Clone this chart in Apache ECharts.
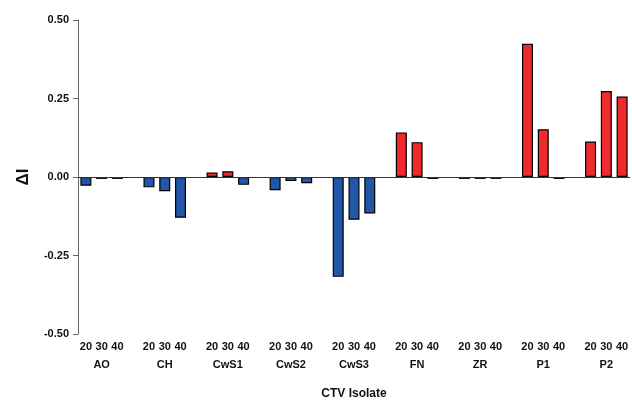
<!DOCTYPE html>
<html>
<head>
    <meta charset="UTF-8">
    <script src="https://cdn.jsdelivr.net/npm/echarts@6/dist/echarts.min.js"></script>
    <title>CTV isolate</title>
</head>
<body style="margin:0;background:#fff">
<div id="main" style="width:632px;height:405px"></div>
<script type="text/javascript">

    var isolates = ['AO', 'CH', 'CwS1', 'CwS2', 'CwS3', 'FN', 'ZR', 'P1', 'P2'];
    var temps = ['20', '30', '40'];
    // delta I per temperature, one value per isolate
    var v20 = [-0.028, -0.033, 0.014, -0.042, -0.318, 0.142, -0.006, 0.424, 0.113];
    var v30 = [-0.006, -0.045, 0.018, -0.013, -0.136, 0.111, -0.006, 0.152, 0.274];
    var v40 = [-0.006, -0.130, -0.025, -0.020, -0.116, -0.006, -0.006, -0.006, 0.256];
    var yTicks = [-0.5, -0.25, 0, 0.25, 0.5];

    // one slot per bar, one empty slot between isolates
    var slots = [];
    var data = [];
    var cols = [v20, v30, v40];
    for (var g = 0; g < isolates.length; g++) {
        for (var t = 0; t < 3; t++) {
            slots.push(g + '_' + t);
            data.push(cols[t][g]);
        }
        if (g < isolates.length - 1) {
            slots.push(g + '_gap');
            data.push(null);
        }
    }

    var myChart = echarts.init(document.getElementById('main'));
    myChart.setOption({
        animation: false,
        textStyle: {fontFamily: 'Liberation Sans, Arial', fontWeight: 'bold'},
        grid: {left: 78, right: 2, top: 20, bottom: 57},
        xAxis: {
            type: 'category',
            data: slots,
            name: 'CTV Isolate',
            nameLocation: 'middle',
            nameGap: 54,
            nameTextStyle: {fontSize: 12, fontWeight: 'bold', color: '#111'},
            axisLine: {show: false},
            axisTick: {show: false},
            axisLabel: {
                interval: 0,
                margin: 4,
                fontSize: 11,
                fontWeight: 'bold',
                color: '#111',
                lineHeight: 18,
                formatter: function (s) {
                    var p = s.split('_');
                    if (p[1] == 'gap') return '';
                    var t = +p[1];
                    if (t == 1) return temps[t] + '\n' + isolates[+p[0]];
                    return temps[t];
                }
            }
        },
        yAxis: {
            type: 'value',
            min: yTicks[0],
            max: yTicks[yTicks.length - 1],
            interval: 0.25,
            name: 'ΔI',
            nameLocation: 'middle',
            nameGap: 46,
            nameRotate: 90,
            nameTextStyle: {fontSize: 17, fontWeight: 'bold', color: '#111'},
            axisLine: {show: true, lineStyle: {color: '#666'}},
            axisTick: {show: true, length: 5, lineStyle: {color: '#666'}},
            splitLine: {show: false},
            axisLabel: {
                fontSize: 11, fontWeight: 'bold', color: '#111', margin: 9,
                formatter: function (v) { return v.toFixed(2); }
            }
        },
        series: [{
            type: 'bar',
            data: data,
            barWidth: 11,
            itemStyle: {
                borderColor: '#000',
                borderWidth: 1.2,
                color: function (p) { return p.value >= 0 ? '#ee2a2c' : '#2156a8'; }
            },
            markLine: {
                silent: true,
                symbol: 'none',
                label: {show: false},
                lineStyle: {color: '#333', type: 'solid', width: 1},
                data: [{yAxis: 0}]
            }
        }]
    });

</script>
</body>
</html>
